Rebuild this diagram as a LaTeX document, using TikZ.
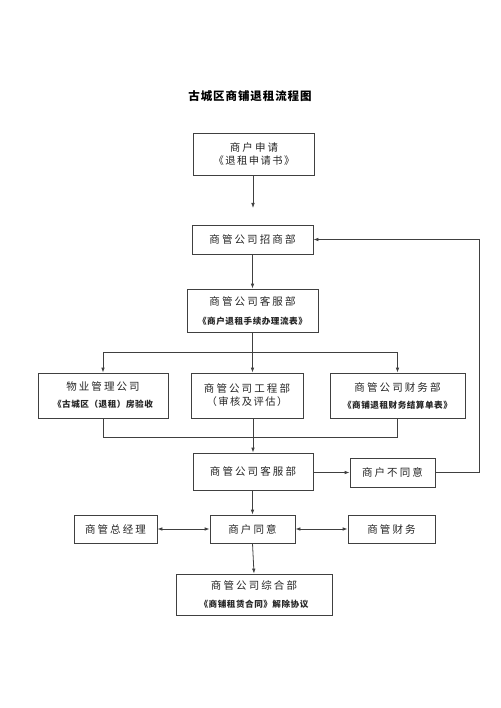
\documentclass[tikz,border=0pt]{standalone}
\usepackage{fontspec}
\setmainfont{Noto Sans CJK SC}
\usetikzlibrary{arrows.meta}
\newcommand\lna[1]{{\fontsize{10.5}{12}\selectfont\addfontfeature{LetterSpace=20}#1}}
\newcommand\lnb[1]{{\fontsize{8.6}{10}\selectfont\bfseries\addfontfeature{LetterSpace=6}#1}}
\newcommand\lnc[1]{{\fontsize{10.3}{12}\selectfont\addfontfeature{LetterSpace=14}#1}}
\begin{document}
\begin{tikzpicture}[x=1pt,y=-1pt,
  box/.style={draw=black!75,line width=0.8pt,inner sep=0pt,align=center,text=black!85},
  arr/.style={draw=black!75,line width=0.8pt,-{Latex[length=5pt,width=3.6pt]}},
  darr/.style={draw=black!75,line width=0.8pt,{Latex[length=5pt,width=3.6pt]}-{Latex[length=5pt,width=3.6pt]}},
  ln/.style={draw=black!75,line width=0.8pt}]
\useasboundingbox (0,0) rectangle (500,708);
\fill[white] (0,0) rectangle (500,708);
\node[text=black] (title) at (250,96) {\fontsize{11.5}{13}\selectfont\bfseries\addfontfeature{LetterSpace=8}古城区商铺退租流程图};
\node[box,minimum width=121pt,minimum height=42pt] (b1) at (254,154) {\lna{商户申请}\\[1pt]\lnc{《退租申请书》}};
\coordinate (a1) at (253,208);
\node[box,minimum width=121pt,minimum height=29pt] (b2) at (252.5,239.5) {\lna{商管公司招商部}};
\node[box,minimum width=131pt,minimum height=43pt] (b3) at (252.5,310.5) {\lna{商管公司客服部}\\[7pt]\lnb{《商户退租手续办理流表》}};
\node[box,minimum width=130pt,minimum height=45pt] (bA) at (103,395.5) {\lna{物业管理公司}\\[5pt]\lnb{《古城区（退租）房验收}};
\node[box,minimum width=112pt,minimum height=45pt] (bB) at (247,395.5) {\lna{商管公司工程部}\\[1pt]\lnc{（审核及评估）}};
\node[box,minimum width=135pt,minimum height=45pt] (bC) at (397.5,395.5) {\lna{商管公司财务部}\\[5pt]\lnb{《商铺退租财务结算单表》}};
\node[box,minimum width=120pt,minimum height=37pt] (b5) at (253,471.5) {\lna{商管公司客服部}};
\node[box,minimum width=85pt,minimum height=29pt] (bN) at (392.5,472.5) {\lna{商户不同意}};
\node[box,minimum width=83pt,minimum height=28pt] (bG) at (115.5,529) {\lna{商管总经理}};
\node[box,minimum width=85pt,minimum height=28pt] (bY) at (252.5,529) {\lna{商户同意}};
\node[box,minimum width=87pt,minimum height=28pt] (bF) at (391.5,529) {\lna{商管财务}};
\node[box,minimum width=156pt,minimum height=41pt] (b6) at (254,594.5) {\lna{商管公司综合部}\\[6pt]\lnb{《商铺租赁合同》解除协议}};
% connectors
\draw[arr] (b1.south -| a1) -- (a1);
\draw[arr] (b2.south) -- (b3.north);
\coordinate (br) at (252.5,352);
\draw[ln] (b3.south) -- (br);
\draw[arr] (br -| bA.north) -- (bA.north);
\draw[arr] (br -| bC.north) -- (bC.north);
\draw[ln] (br -| bA.north) -- (br -| bC.north);
\draw[arr] (br) -- (br |- bB.north);
\coordinate (m) at (253,437);
\draw[ln] (bA.south) -- (bA.south |- m) -- (bC.south |- m) -- (bC.south);
\draw[ln] (m |- bB.south) -- (m);
\draw[arr] (m) -- (b5.north);
\draw[arr] (b5.east |- bN.west) -- (bN.west);
\coordinate (r) at (479,300);
\draw[arr] (bN.east) -- (bN.east -| r) -- (r |- b2.east) -- (b2.east);
\draw[arr] (b5.south -| bY.north) -- (bY.north);
\draw[darr] (bG.east) -- (bY.west);
\draw[darr] (bY.east) -- (bF.west);
\draw[arr] (bY.south) -- (b6.north);
\end{tikzpicture}
\end{document}
